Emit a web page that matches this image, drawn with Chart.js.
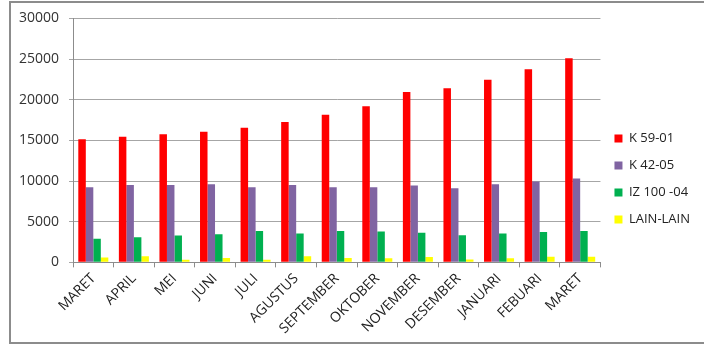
<!DOCTYPE html>
<html>
<head>
<meta charset="utf-8">
<script src="https://cdn.jsdelivr.net/npm/chart.js@4"></script>
<style>
  html, body { margin: 0; padding: 0; background: #fff; }
  #wrap { position: relative; width: 704px; height: 348px; }
  #frame { position: absolute; left: 9px; top: 1px; width: 700px; height: 343px; border: 2px solid #8c8c8c; box-sizing: border-box; }
  canvas { position: absolute; left: 0; top: 0; }
</style>
</head>
<body>
<div id="wrap">
  <div id="frame"></div>
  <canvas id="chart" width="704" height="348"></canvas>
</div>
<script>
const months = ['MARET', 'APRIL', 'MEI', 'JUNI', 'JULI', 'AGUSTUS', 'SEPTEMBER', 'OKTOBER', 'NOVEMBER', 'DESEMBER', 'JANUARI', 'FEBUARI', 'MARET'];
const k5901 = [15150, 15450, 15750, 16050, 16550, 17250, 18150, 19200, 20950, 21400, 22450, 23750, 25100];
const k4205 = [9250, 9500, 9500, 9600, 9250, 9500, 9250, 9250, 9450, 9100, 9600, 9950, 10300];
const iz10004 = [2900, 3100, 3300, 3450, 3850, 3550, 3850, 3800, 3650, 3350, 3550, 3750, 3850];
const lainLain = [600, 750, 330, 550, 330, 750, 550, 500, 650, 350, 500, 700, 700];

const ctx = document.getElementById('chart');
const fam = "'Open Sans', 'Liberation Sans', sans-serif";

new Chart(ctx, {
  type: 'bar',
  data: {
    labels: months,
    datasets: [
      { label: 'K 59-01', data: k5901, backgroundColor: '#ff0000' },
      { label: 'K 42-05', data: k4205, backgroundColor: '#8064a2' },
      { label: 'IZ 100 -04', data: iz10004, backgroundColor: '#00b050' },
      { label: 'LAIN-LAIN', data: lainLain, backgroundColor: '#ffff00' }
    ]
  },
  options: {
    responsive: false,
    animation: false,
    layout: { padding: { left: 9, top: 18, right: 4, bottom: 8 } },
    datasets: { bar: { barPercentage: 1, categoryPercentage: 0.74 } },
    plugins: {
      tooltip: { enabled: false },
      legend: {
        position: 'right',
        labels: {
          boxWidth: 8, boxHeight: 8, padding: 14, color: '#222',
          font: { family: fam, size: 13 }
        }
      }
    },
    scales: {
      x: {
        grid: { drawOnChartArea: false, tickLength: 5, color: '#8c8c8c' },
        border: { color: '#8c8c8c' },
        ticks: { minRotation: 45, maxRotation: 45, color: '#222', font: { family: fam, size: 14 } }
      },
      y: {
        min: 0, max: 30000,
        grid: { color: '#a6a6a6', tickLength: 4 },
        border: { color: '#8c8c8c' },
        ticks: {
          stepSize: 5000, padding: 10, color: '#333', font: { family: fam, size: 14 },
          callback: v => String(v)
        }
      }
    }
  }
});
</script>
</body>
</html>
